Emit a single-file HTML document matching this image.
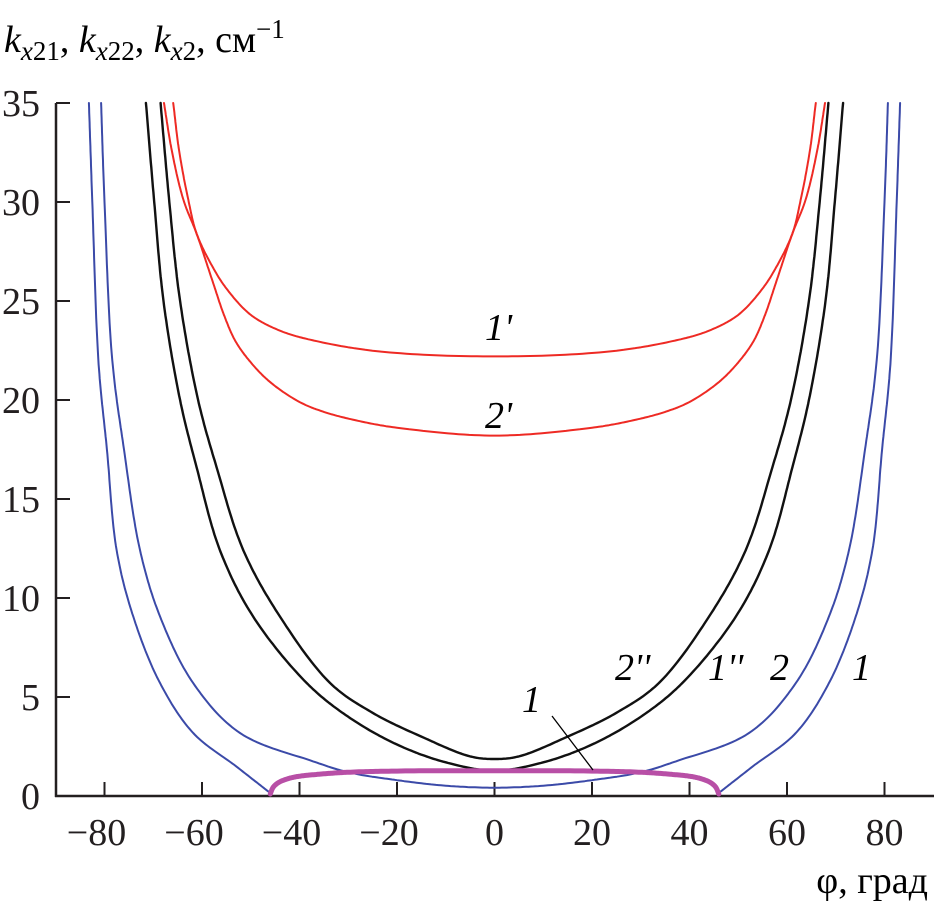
<!DOCTYPE html>
<html><head><meta charset="utf-8"><style>
body{margin:0;background:#fff}
svg{display:block;font-family:"Liberation Serif",serif}
</style></head><body>
<svg id="chart" width="934" height="906" viewBox="0 0 934 906">
<g id="axes"></g>
<g id="series"></g>
<g id="labels">
<text x="4" y="52" font-size="38" font-style="italic">k<tspan font-size="27" dy="8">x</tspan><tspan font-size="27" font-style="normal">21</tspan><tspan dy="-8" font-style="normal">, </tspan>k<tspan font-size="27" dy="8">x</tspan><tspan font-size="27" font-style="normal">22</tspan><tspan dy="-8" font-style="normal">, </tspan>k<tspan font-size="27" dy="8">x</tspan><tspan font-size="27" font-style="normal">2</tspan><tspan dy="-8" font-style="normal">, см</tspan><tspan font-size="27" dy="-14" font-style="normal">−1</tspan></text>
<text x="928" y="893" font-size="38" text-anchor="end">φ, град</text>
<text x="485" y="340" font-size="38" font-style="italic">1'</text>
<text x="485" y="428" font-size="38" font-style="italic">2'</text>
<text x="615" y="680" font-size="38" font-style="italic">2''</text>
<text x="708" y="680" font-size="38" font-style="italic">1''</text>
<text x="770" y="680" font-size="38" font-style="italic">2</text>
<text x="852" y="680" font-size="38" font-style="italic">1</text>
<text x="522" y="712" font-size="38" font-style="italic">1</text>
<line x1="552" y1="716" x2="593" y2="770" stroke="#000" stroke-width="1.3"/>
</g>
</svg>
<script>
const xTicks=[-80,-60,-40,-20,0,20,40,60,80];
const yTicks=[0,5,10,15,20,25,30,35];
const phiBlue1L=[-83.2,-82.5,-81.2,-79.5,-77.5,-74.1,-68.6,-61.8,-52.9,-46];
const kBlue1L=[35,30,21.8,17.5,12.4,9.06,5.7,3.18,1.48,0.15];
const phiBlue1R=[46,52.9,61.8,68.6,74.1,77.5,79.5,81.2,82.5,83.2];
const kBlue1R=[0.15,1.48,3.18,5.7,9.06,12.4,17.5,21.8,30,35];
const phiBlue2=[-80.7,-80,-78.4,-76,-72.7,-68.6,-61.8,-52.2,-37.2,-30,-20,-10,0,10,20,30,37.2,52.2,61.8,68.6,72.7,76,78.4,80,80.7];
const kBlue2=[35,30,22,17.5,12.4,9.06,5.7,3.18,1.75,1.2,0.8,0.52,0.42,0.52,0.8,1.2,1.75,3.18,5.7,9.06,12.4,17.5,22,30,35];
const phiBlack1=[-71.5,-69.8,-67.9,-64.5,-61.1,-56.3,-49.5,-38.5,-30,-20,-10,0,10,20,30,38.5,49.5,56.3,61.1,64.5,67.9,69.8,71.5];
const kBlack1=[35,30,25,20,16.6,12.4,9.06,5.7,4.0,2.6,1.7,1.28,1.7,2.6,4.0,5.7,9.06,12.4,16.6,20,25,30,35];
const phiBlack2=[-68.5,-66.7,-64.5,-60.8,-57,-51.5,-44,-33.7,-25,-15,-5,0,5,15,25,33.7,44,51.5,57,60.8,64.5,66.7,68.5];
const kBlack2=[35,30,25,20,16.6,12.4,9.06,5.7,4.2,3.0,2.0,1.87,2.0,3.0,4.2,5.7,9.06,12.4,16.6,20,25,30,35];
const phiRed1=[-65.9,-64.7,-62.8,-61.1,-58,-54.9,-50,-44,-37,-23.5,0,23.5,37,44,50,54.9,58,61.1,62.8,64.7,65.9];
const kRed1=[35,32.6,30.1,28.4,26.8,25.6,24.3,23.5,23,22.45,22.2,22.45,23,23.5,24.3,25.6,26.8,28.4,30.1,32.6,35];
const phiRed2=[-67.8,-66.2,-63.8,-61.1,-57.7,-55.5,-53.2,-50,-46,-40,-35,-28,-20,0,20,28,35,40,46,50,53.2,55.5,57.7,61.1,63.8,66.2,67.8];
const kRed2=[35,32.6,30.1,28.4,25.9,24.3,23,21.9,20.9,19.9,19.4,18.95,18.6,18.2,18.6,18.95,19.4,19.9,20.9,21.9,23,24.3,25.9,28.4,30.1,32.6,35];
const phiPurple=[-46,-45.5,-45,-44,-42,-40,-35,-30,-20,0,20,30,35,40,42,44,45,45.5,46];
const kPurple=[0.1,0.4,0.55,0.72,0.9,1.0,1.12,1.2,1.26,1.28,1.26,1.2,1.12,1.0,0.9,0.72,0.55,0.4,0.1];

const X=v=>494.5+v*4.875;
const Y=v=>796-v*19.8;
const NS='http://www.w3.org/2000/svg';
const axes=document.getElementById('axes');
const series=document.getElementById('series');
function mk(tag,attrs,parent){const e=document.createElementNS(NS,tag);for(const k in attrs)e.setAttribute(k,attrs[k]);parent.appendChild(e);return e;}
let ya=mk('line',{x1:56,y1:103,x2:56,y2:797,stroke:'#231f20','stroke-width':2.5},axes);


let xa=mk('line',{x1:55,y1:796,x2:934,y2:796,stroke:'#231f20','stroke-width':2.5},axes);


yTicks.forEach(t=>{
 const l=mk('line',{x1:56,y1:Y(t),x2:70,y2:Y(t),stroke:'#231f20','stroke-width':2},axes);
 
 
 const tx=mk('text',{x:40,y:Y(t)+13,'font-size':38,'text-anchor':'end',fill:'#231f20'},axes);
 tx.textContent=t;
 
 
});
xTicks.forEach(t=>{
 const l=mk('line',{x1:X(t),y1:796,x2:X(t),y2:782,stroke:'#231f20','stroke-width':2},axes);
 
 
 const tx=mk('text',{x:X(t)-(t<0?8:0),y:845,'font-size':38,'text-anchor':'middle',fill:'#231f20'},axes);
 tx.textContent=(t<0?'\u2212'+(-t):t);
 
 
});
function pathD(px,py){
 const p=px.map((v,i)=>[X(v),Y(py[i])]);
 const pts=[p[0]];
 for(let i=0;i<p.length-1;i++){
  const P0=i>0?p[i-1]:[2*p[0][0]-p[1][0],2*p[0][1]-p[1][1]];
  const P1=p[i],P2=p[i+1];
  const P3=i+2<p.length?p[i+2]:[2*P2[0]-P1[0],2*P2[1]-P1[1]];
  const dist=(a,b)=>Math.pow(Math.hypot(b[0]-a[0],b[1]-a[1])||1e-6,0.5);
  const t0=0,t1=t0+dist(P0,P1),t2=t1+dist(P1,P2),t3=t2+dist(P2,P3);
  const N=20;
  for(let s=1;s<=N;s++){
   const t=t1+(t2-t1)*s/N;
   const L=(a,b,ta,tb)=>[(tb-t)/(tb-ta)*a[0]+(t-ta)/(tb-ta)*b[0],(tb-t)/(tb-ta)*a[1]+(t-ta)/(tb-ta)*b[1]];
   const A1=L(P0,P1,t0,t1),A2=L(P1,P2,t1,t2),A3=L(P2,P3,t2,t3);
   const B1=L(A1,A2,t0,t2),B2=L(A2,A3,t1,t3);
   pts.push(L(B1,B2,t1,t2));
  }
 }
 return 'M'+pts.map(q=>q[0].toFixed(1)+','+q[1].toFixed(1)).join('L');
}
function curve(px,py,color,w,name){
 const e=mk('path',{d:pathD(px,py),fill:'none',stroke:color,'stroke-width':w,'stroke-linecap':'round','stroke-linejoin':'round'},series);
 
 
}
curve(phiBlue1L,kBlue1L,'#3b4aa8',2,'curve-1-left');
curve(phiBlue1R,kBlue1R,'#3b4aa8',2,'curve-1-right');
curve(phiBlue2,kBlue2,'#3b4aa8',2,'curve-2');
curve(phiRed1,kRed1,'#ee2a24',2,'curve-1-prime');
curve(phiRed2,kRed2,'#ee2a24',2,'curve-2-prime');
curve(phiBlack1,kBlack1,'#111',2.4,'curve-1-double-prime');
curve(phiBlack2,kBlack2,'#111',2.4,'curve-2-double-prime');
curve(phiPurple,kPurple,'#b84fa6',5,'curve-1-purple');
</script>
</body></html>
